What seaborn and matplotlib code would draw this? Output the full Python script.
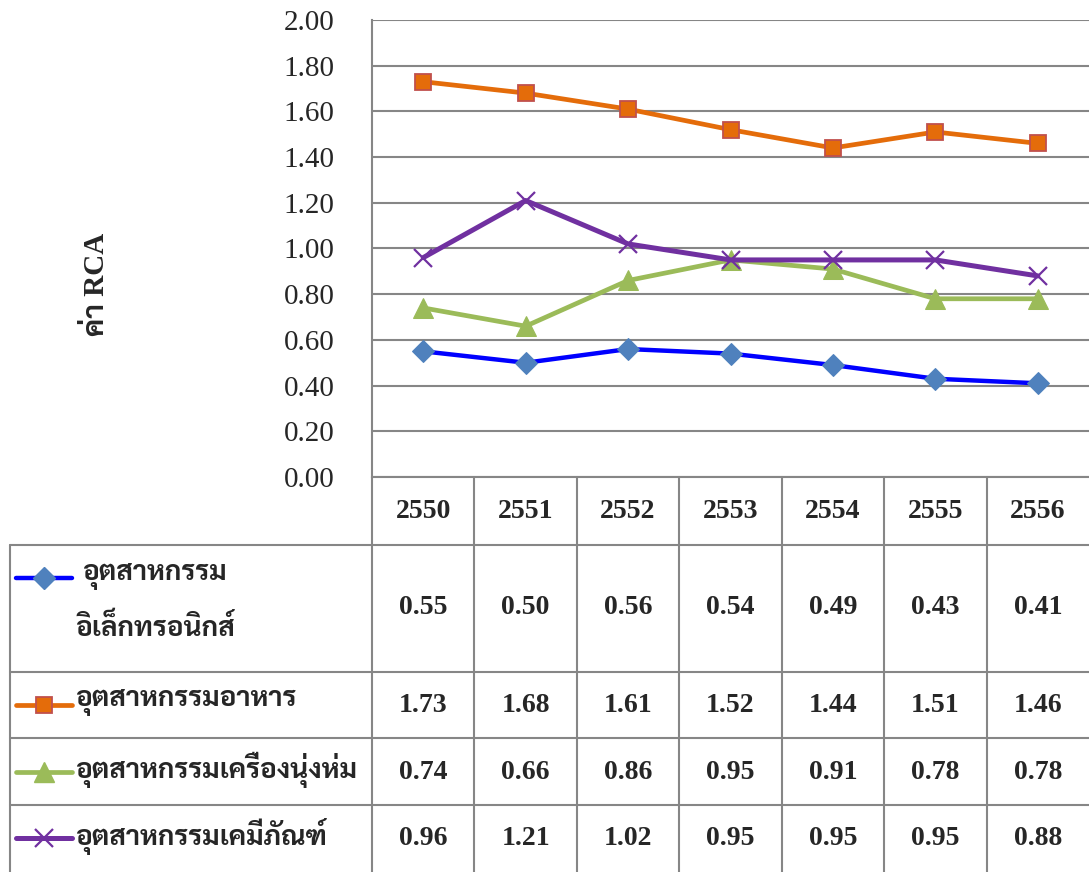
import numpy as np
import matplotlib
matplotlib.use("Agg")
import matplotlib.pyplot as plt
import matplotlib.transforms as mtransforms
from matplotlib.lines import Line2D
import seaborn as sns

years = ['2550', '2551', '2552', '2553', '2554', '2555', '2556']
names = ['อุตสาหกรรม\nอิเล็กทรอนิกส์', 'อุตสาหกรรมอาหาร',
         'อุตสาหกรรมเครื่องนุ่งห่ม', 'อุตสาหกรรมเคมีภัณฑ์']
electronics = [0.55, 0.50, 0.56, 0.54, 0.49, 0.43, 0.41]
food = [1.73, 1.68, 1.61, 1.52, 1.44, 1.51, 1.46]
clothing = [0.74, 0.66, 0.86, 0.95, 0.91, 0.78, 0.78]
chemical = [0.96, 1.21, 1.02, 0.95, 0.95, 0.95, 0.88]
yticks = [0.0, 0.2, 0.4, 0.6, 0.8, 1.0, 1.2, 1.4, 1.6, 1.8, 2.0]

sns.set_style('white')
plt.rcParams['font.family'] = ['Liberation Serif', 'Sarabun', 'DejaVu Sans']

W, H = 1089, 872
fig = plt.figure(figsize=(W / 100, H / 100), dpi=100)
ax = fig.add_axes([372 / W, 1 - 477 / H, (W - 372) / W, (477 - 20) / H])

grid_c = '#868686'
series = [
    (electronics, dict(color='#0000FF', marker='D', markersize=11, markerfacecolor='#4F81BD',
                       markeredgecolor='#4F81BD', linewidth=3.2)),
    (food, dict(color='#E46C0A', marker='s', markersize=12, markerfacecolor='#E46C0A',
                markeredgecolor='#C0504D', markeredgewidth=1.3, linewidth=3.4)),
    (clothing, dict(color='#9BBB59', marker='^', markersize=14, markerfacecolor='#9BBB59',
                    markeredgecolor='#9BBB59', linewidth=3.4)),
    (chemical, dict(color='#7030A0', marker='x', markersize=13, markeredgecolor='#7030A0',
                    markeredgewidth=1.6, linewidth=3.6)),
]
xpos = np.arange(len(years))
for vals, kw in series:
    sns.lineplot(x=xpos, y=vals, ax=ax, **kw)

ax.set_xlim(-0.5, len(years) - 0.5)
ax.set_ylim(0, 2)
ax.set_yticks(yticks)
ax.set_yticklabels([f'{t:.2f}' for t in yticks], fontsize=21)
ax.tick_params(axis='y', length=0, pad=27)
ax.set_xticks([])
ax.yaxis.grid(True, color=grid_c, linewidth=1.5)
for s in ['top', 'right']:
    ax.spines[s].set_visible(False)
for s in ['left', 'bottom']:
    ax.spines[s].set_color(grid_c)
    ax.spines[s].set_linewidth(1.5)

fig.text(96 / W, 1 - 284 / H, 'ค่า RCA', rotation=90, fontsize=21, fontweight='bold',
         ha='center', va='center')

# data table below the plot
tr = mtransforms.blended_transform_factory(ax.transData, fig.transFigure)


def fy(px):
    return 1 - px / H


x_left = ax.transData.inverted().transform(fig.transFigure.transform((10 / W, 0)))[0]
for ypx in [545, 672, 738, 805]:
    fig.add_artist(Line2D([x_left, len(years) - 0.5], [fy(ypx)] * 2, transform=tr,
                          color=grid_c, linewidth=1.5))
for b in np.arange(len(years)) - 0.5:
    fig.add_artist(Line2D([b, b], [fy(477), fy(872)], transform=tr, color=grid_c, linewidth=1.5))
fig.add_artist(Line2D([x_left, x_left], [fy(545), fy(872)], transform=tr,
                      color=grid_c, linewidth=1.5))

for i, y in enumerate(years):
    fig.text(i, fy(511), y, transform=tr, ha='center', va='center', fontsize=20,
             fontweight='bold')

row_centers = [607, 705, 772, 838]
for r, (vals, kw) in enumerate(series):
    for i, v in enumerate(vals):
        fig.text(i, fy(row_centers[r]), f'{v:.2f}', transform=tr, ha='center', va='center',
                 fontsize=20, fontweight='bold')
    key_y = 578 if r == 0 else row_centers[r]
    line_kw = {k: v for k, v in kw.items() if not k.startswith('marker')}
    fig.add_artist(Line2D([16 / W, 72 / W], [fy(key_y)] * 2, transform=fig.transFigure,
                          **line_kw))
    fig.add_artist(Line2D([44 / W], [fy(key_y)], transform=fig.transFigure,
                          **dict(kw, linestyle='None')))

thai_kw = dict(ha='left', va='center', fontsize=20, fontweight='bold', family='Sarabun')
first, second = names[0].split('\n')
fig.text(82 / W, fy(576), first, **thai_kw)
fig.text(75 / W, fy(628), second, **thai_kw)
for r in range(1, 4):
    fig.text(75 / W, fy(row_centers[r] - 2), names[r], **thai_kw)

fig.savefig('out.png', dpi=100)
